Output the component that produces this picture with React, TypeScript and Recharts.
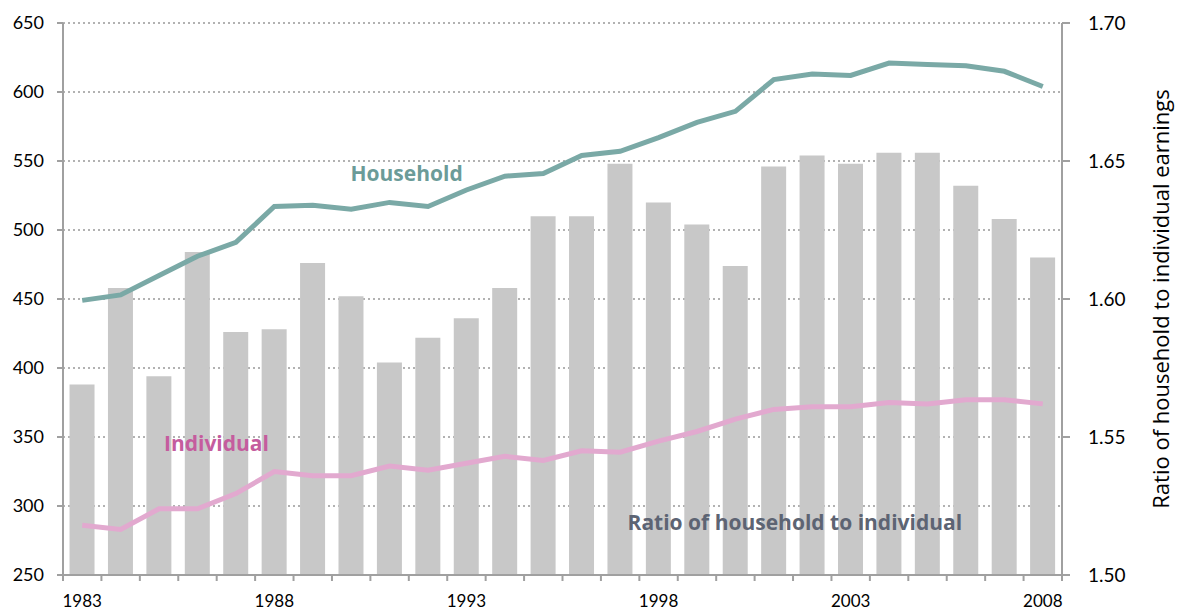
import React from "react";
import {
  ComposedChart,
  Bar,
  Line,
  XAxis,
  YAxis,
  CartesianGrid,
  ReferenceDot,
} from "recharts";

const years = [
  "1983", "1984", "1985", "1986", "1987", "1988", "1989", "1990", "1991", "1992",
  "1993", "1994", "1995", "1996", "1997", "1998", "1999", "2000", "2001", "2002",
  "2003", "2004", "2005", "2006", "2007", "2008",
];

const household = [
  449, 453, 467, 481, 491, 517, 518, 515, 520, 517,
  529, 539, 541, 554, 557, 567, 578, 586, 609, 613,
  612, 621, 620, 619, 615, 604,
];

const individual = [
  286, 283, 298, 298, 309, 325, 322, 322, 329, 326,
  331, 336, 333, 340, 339, 347, 354, 363, 370, 372,
  372, 375, 374, 377, 377, 374,
];

const ratio = [
  1.569, 1.604, 1.572, 1.617, 1.588, 1.589, 1.613, 1.601, 1.577, 1.586,
  1.593, 1.604, 1.630, 1.630, 1.649, 1.635, 1.627, 1.612, 1.648, 1.652,
  1.649, 1.653, 1.653, 1.641, 1.629, 1.615,
];

const leftTicks = [250, 300, 350, 400, 450, 500, 550, 600, 650];
const rightTicks = [1.5, 1.55, 1.6, 1.65, 1.7];
const labelEvery = 5;

const data = years.map((y, i) => ({
  year: y,
  household: household[i],
  individual: individual[i],
  ratio: ratio[i],
}));

const W = 1187;
const H = 611;
const LEFT_W = 63;
const RIGHT_W = 125;
const TOP = 23;
const XAXIS_H = 36;
const FONT = "Lato, 'Open Sans', sans-serif";
const FONT2 = "'Open Sans', sans-serif";
const AXIS_COLOR = "#a0a0a0";

const plotWidth = W - LEFT_W - RIGHT_W;
const band = plotWidth / years.length;

const XTick = (props: any) => {
  const { x, y, payload, index } = props;
  const i = typeof index === "number" ? index : years.indexOf(payload.value);
  const left = x - band / 2;
  return (
    <g>
      <line x1={left} x2={left} y1={y} y2={y + 6} stroke={AXIS_COLOR} strokeWidth={2} />
      {i === years.length - 1 && (
        <line x1={x + band / 2} x2={x + band / 2} y1={y} y2={y + 6} stroke={AXIS_COLOR} strokeWidth={2} />
      )}
      {i % labelEvery === 0 && (
        <text x={x} y={y + 32} textAnchor="middle" fill="#000" fontSize={17} fontFamily={FONT}>
          {payload.value}
        </text>
      )}
    </g>
  );
};

export default function App() {
  return (
    <div style={{ position: "absolute", left: 0, top: 0, width: W, height: H, background: "#fff" }}>
      <ComposedChart
        width={W}
        height={H}
        data={data}
        margin={{ top: TOP, right: 0, bottom: 0, left: 0 }}
        barCategoryGap="17%"
      >
        <CartesianGrid
          yAxisId="left"
          vertical={false}
          stroke="#999"
          strokeDasharray="2 3"
          strokeWidth={1.5}
        />
        <XAxis
          dataKey="year"
          xAxisId="cat"
          height={XAXIS_H}
          interval={0}
          tickLine={false}
          tickSize={0}
          tickMargin={0}
          axisLine={{ stroke: AXIS_COLOR, strokeWidth: 2 }}
          tick={<XTick />}
        />
        <YAxis
          yAxisId="left"
          orientation="left"
          width={LEFT_W}
          domain={[250, 650]}
          ticks={leftTicks}
          interval={0}
          tickSize={6}
          tickMargin={13}
          axisLine={{ stroke: AXIS_COLOR, strokeWidth: 2 }}
          tickLine={{ stroke: AXIS_COLOR, strokeWidth: 2 }}
          tick={{ fill: "#000", fontSize: 18, fontFamily: FONT }}
        />
        <YAxis
          yAxisId="right"
          orientation="right"
          width={RIGHT_W}
          domain={[1.5, 1.7]}
          ticks={rightTicks}
          interval={0}
          tickFormatter={(v: number) => v.toFixed(2)}
          tickSize={8}
          tickMargin={18}
          axisLine={{ stroke: AXIS_COLOR, strokeWidth: 2 }}
          tickLine={{ stroke: AXIS_COLOR, strokeWidth: 2 }}
          tick={{ fill: "#000", fontSize: 19, fontFamily: FONT }}
          label={{
            value: "Ratio of household to individual earnings",
            angle: -90,
            position: "insideRight",
            offset: 26,
            style: { textAnchor: "middle", fill: "#000", fontSize: 22, fontFamily: FONT2 },
          }}
        />
        <Bar
          xAxisId="cat"
          yAxisId="right"
          dataKey="ratio"
          fill="#c8c8c8"
          isAnimationActive={false}
        />
        <Line
          xAxisId="cat"
          yAxisId="left"
          dataKey="household"
          stroke="#7aa9a6"
          strokeWidth={5}
          dot={false}
          type="linear"
          isAnimationActive={false}
        />
        <Line
          xAxisId="cat"
          yAxisId="left"
          dataKey="individual"
          stroke="#e2a9cf"
          strokeWidth={5}
          dot={false}
          type="linear"
          isAnimationActive={false}
        />
        <ReferenceDot
          xAxisId="cat"
          yAxisId="left"
          x="1991"
          y={541}
          r={0}
          stroke="none"
          fill="none"
          label={{
            value: "Household",
            position: "center",
            dx: 17,
            fill: "#6b9b98",
            fontSize: 21,
            fontWeight: 700,
            fontFamily: FONT2,
          }}
        />
        <ReferenceDot
          xAxisId="cat"
          yAxisId="left"
          x="1986"
          y={345}
          r={0}
          stroke="none"
          fill="none"
          label={{
            value: "Individual",
            position: "center",
            dx: 19,
            fill: "#c55c9e",
            fontSize: 21,
            fontWeight: 700,
            fontFamily: FONT2,
          }}
        />
        <ReferenceDot
          xAxisId="cat"
          yAxisId="left"
          x="2001"
          y={288}
          r={0}
          stroke="none"
          fill="none"
          label={{
            value: "Ratio of household to individual",
            position: "center",
            dx: 21,
            fill: "#5d6473",
            fontSize: 21,
            fontWeight: 700,
            fontFamily: FONT2,
          }}
        />
      </ComposedChart>
    </div>
  );
}
